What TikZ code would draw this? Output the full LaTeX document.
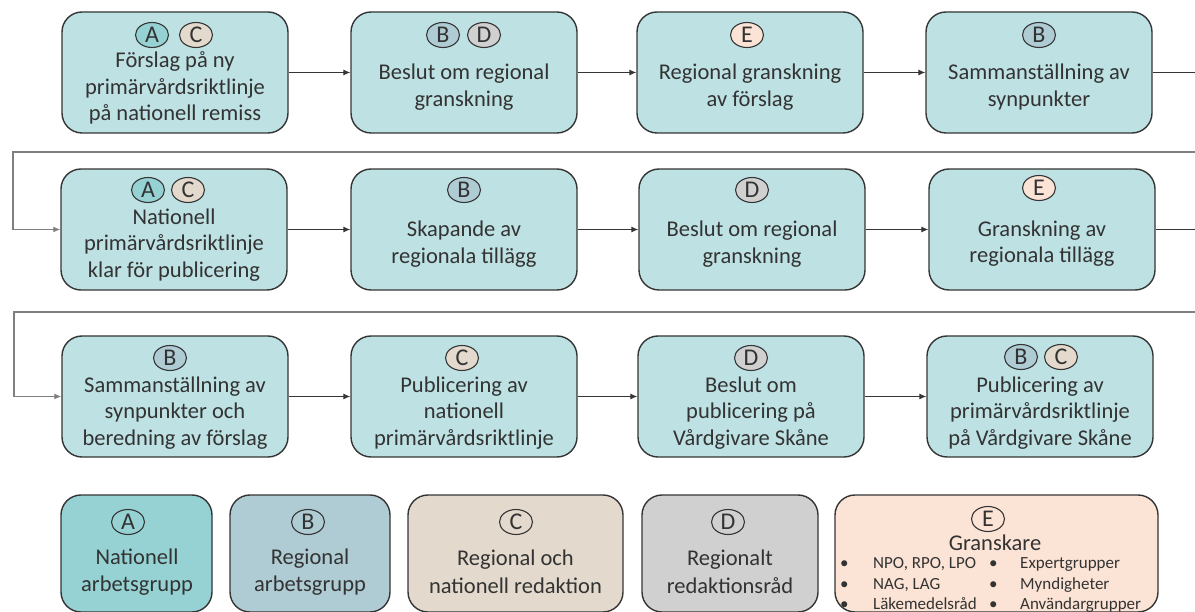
\documentclass[tikz,border=0pt]{standalone}
\usepackage{fontspec}
\setmainfont{Carlito}
\usetikzlibrary{arrows.meta,shapes.geometric}
\definecolor{boxfill}{HTML}{BEE1E3}
\definecolor{colA}{HTML}{96D2D3}
\definecolor{colB}{HTML}{AFCBD3}
\definecolor{colC}{HTML}{E3DACD}
\definecolor{colD}{HTML}{D0D0D1}
\definecolor{colE}{HTML}{FBE3D5}
\definecolor{edgecol}{HTML}{353535}
\definecolor{txt}{HTML}{333333}
\definecolor{wire}{HTML}{7F7F7F}
\tikzset{
  stepbox/.style={draw=edgecol, line width=1.4pt, fill=boxfill, rounded corners=20pt,
    minimum width=226pt, minimum height=121pt, inner sep=0pt},
  legbox/.style={draw=edgecol, line width=1.4pt, rounded corners=20pt,
    minimum height=117pt, inner sep=0pt},
  steptext/.style={text=txt, font=\fontsize{22.5}{26.5}\selectfont, align=center, inner sep=0pt},
  legtext/.style={text=txt, font=\fontsize{22.5}{27.5}\selectfont, align=center, inner sep=0pt},
  smalltext/.style={text=txt, font=\fontsize{17}{20}\selectfont, anchor=base west, inner sep=0pt},
  badge/.style={ellipse, draw=edgecol, line width=1.1pt, minimum width=33pt, minimum height=25pt,
    inner sep=0pt, font=\fontsize{24}{24}\selectfont, text=txt},
  flow/.style={draw=edgecol, line width=0.9pt, -{Latex[length=7pt,width=6pt]}},
  plainflow/.style={draw=edgecol, line width=0.9pt},
  wrapflow/.style={draw=wire, line width=1.2pt, -{Latex[length=7pt,width=6pt]}},
}
\begin{document}
\begin{tikzpicture}[x=1pt,y=-1pt]
\useasboundingbox (0,0) rectangle (1195,612);
% ---------- Row 1 ----------
\node[stepbox] (b1) at (175,72.5) {};
\node[stepbox] (b2) at (464,72.5) {};
\node[stepbox] (b3) at (750,72.5) {};
\node[stepbox] (b4) at (1039,72.5) {};
\node[badge, fill=colA] (b1a) at (152,35) {A};
\node[badge, fill=colC] (b1c) at (196,35) {C};
\node[steptext] (t1) at (175,88) {Förslag på ny\\primärvårdsriktlinje\\på nationell remiss};
\node[badge, fill=colB] (b2b) at (443,35) {B};
\node[badge, fill=colD] (b2d) at (484,35) {D};
\node[steptext] (t2) at (464,87) {Beslut om regional\\granskning};
\node[badge, fill=colE] (b3e) at (747,35) {E};
\node[steptext] (t3) at (750,87) {Regional granskning\\av förslag};
\node[badge, fill=colB] (b4b) at (1039,35) {B};
\node[steptext] (t4) at (1039,87) {Sammanställning av\\synpunkter};
% ---------- Row 2 ----------
\node[stepbox] (b5) at (174,229.5) {};
\node[stepbox] (b6) at (464,229.5) {};
\node[stepbox] (b7) at (752,229.5) {};
\node[stepbox] (b8) at (1042,229.5) {};
\node[badge, fill=colA] (b5a) at (148,190) {A};
\node[badge, fill=colC] (b5c) at (188,190) {C};
\node[steptext] (t5) at (174,245) {Nationell\\primärvårdsriktlinje\\klar för publicering};
\node[badge, fill=colB] (b6b) at (464,190) {B};
\node[steptext] (t6) at (464,244) {Skapande av\\regionala tillägg};
\node[badge, fill=colD] (b7d) at (752,190) {D};
\node[steptext] (t7) at (752,244) {Beslut om regional\\granskning};
\node[badge, fill=colE] (b8e) at (1039,188) {E};
\node[steptext] (t8) at (1042,243.5) {Granskning av\\regionala tillägg};
% ---------- Row 3 ----------
\node[stepbox] (b9) at (175,396.5) {};
\node[stepbox] (b10) at (464,396.5) {};
\node[stepbox] (b11) at (751,396.5) {};
\node[stepbox] (b12) at (1040,396.5) {};
\node[badge, fill=colB] (b9b) at (170,358) {B};
\node[steptext] (t9) at (175,413) {Sammanställning av\\synpunkter och\\beredning av förslag};
\node[badge, fill=colC] (b10c) at (462,358) {C};
\node[steptext] (t10) at (464,413) {Publicering av\\nationell\\primärvårdsriktlinje};
\node[badge, fill=colD] (b11d) at (751,358) {D};
\node[steptext] (t11) at (751,413) {Beslut om\\publicering på\\Vårdgivare Skåne};
\node[badge, fill=colB] (b12b) at (1021,357) {B};
\node[badge, fill=colC] (b12c) at (1061,357) {C};
\node[steptext] (t12) at (1040,413) {Publicering av\\primärvårdsriktlinje\\på Vårdgivare Skåne};
% ---------- Connectors ----------
\draw[flow] (b1.east) -- (b2.west);
\draw[flow] (b2.east) -- (b3.west);
\draw[flow] (b3.east) -- (b4.west);
\coordinate (e1) at (1195,72.5);
\draw[plainflow] (b4.east) -- (e1);
\coordinate (r1) at (1195,152);
\coordinate (l1) at (13,152);
\draw[wrapflow] (r1) -- (l1) |- (b5.west);
\draw[flow] (b5.east) -- (b6.west);
\draw[flow] (b6.east) -- (b7.west);
\draw[flow] (b7.east) -- (b8.west);
\coordinate (e2) at (1195,229.5);
\draw[plainflow] (b8.east) -- (e2);
\coordinate (r2) at (1195,312);
\coordinate (l2) at (14,312);
\draw[wrapflow] (r2) -- (l2) |- (b9.west);
\draw[flow] (b9.east) -- (b10.west);
\draw[flow] (b10.east) -- (b11.west);
\draw[flow] (b11.east) -- (b12.west);
% ---------- Legend ----------
\node[legbox, fill=colA, minimum width=151pt] (la) at (136.5,553.5) {};
\node[legbox, fill=colB, minimum width=160pt] (lb) at (310,553.5) {};
\node[legbox, fill=colC, minimum width=215pt] (lc) at (515.5,553.5) {};
\node[legbox, fill=colD, minimum width=176pt] (ld) at (730,553.5) {};
\node[legbox, fill=colE, minimum width=323pt] (le) at (996.5,553.5) {};
\node[badge] (lac) at (128,522) {A};
\node[legtext] (lat) at (137,572) {Nationell\\arbetsgrupp};
\node[badge] (lbc) at (308,522) {B};
\node[legtext] (lbt) at (310,572) {Regional\\arbetsgrupp};
\node[badge] (lcc) at (516,522) {C};
\node[legtext] (lct) at (515.5,572) {Regional och\\nationell redaktion};
\node[badge] (ldc) at (728,522) {D};
\node[legtext] (ldt) at (730,572) {Regionalt\\redaktionsråd};
\node[badge] (lec) at (988,519) {E};
\node[text=txt, font=\fontsize{22.5}{22.5}\selectfont, inner sep=0pt] (let) at (995,543) {Granskare};
\node[smalltext] (lb1) at (840,568) {•};
\node[smalltext] (lt1) at (873,568) {NPO, RPO, LPO};
\node[smalltext] (lb2) at (840,589) {•};
\node[smalltext] (lt2) at (873,589) {NAG, LAG};
\node[smalltext] (lb3) at (840,609.5) {•};
\node[smalltext] (lt3) at (873,609.5) {Läkemedelsråd};
\node[smalltext] (lb4) at (989,568) {•};
\node[smalltext] (lt4) at (1020,568) {Expertgrupper};
\node[smalltext] (lb5) at (989,589) {•};
\node[smalltext] (lt5) at (1020,589) {Myndigheter};
\node[smalltext] (lb6) at (989,609.5) {•};
\node[smalltext] (lt6) at (1020,609.5) {Användargrupper};
\end{tikzpicture}
\end{document}
